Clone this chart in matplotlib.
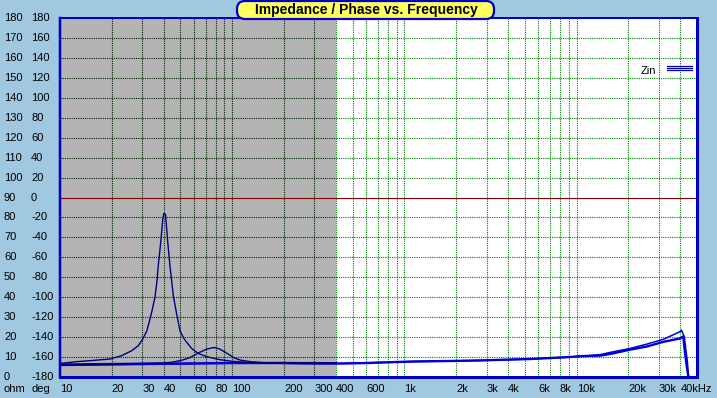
import matplotlib
matplotlib.use("Agg")
import matplotlib.pyplot as plt
import matplotlib.transforms as mtransforms
from matplotlib.patches import FancyBboxPatch
from matplotlib.lines import Line2D

# ---------------- data ----------------
title = "Impedance / Phase vs. Frequency"
legend_label = "Zin"

ohm_ticks = [180, 170, 160, 150, 140, 130, 120, 110, 100, 90, 80, 70, 60, 50, 40, 30, 20, 10, 0]
deg_ticks = [180, 160, 140, 120, 100, 80, 60, 40, 20, 0, -20, -40, -60, -80, -100, -120, -140, -160, -180]

x_tick_vals = [10, 20, 30, 40, 60, 80, 100, 200, 300, 400, 600, 1000, 2000, 3000, 4000,
               6000, 8000, 10000, 20000, 30000, 40000]
x_tick_labels = ["10", "20", "30", "40", "60", "80", "100", "200", "300", "400", "600", "1k",
                 "2k", "3k", "4k", "6k", "8k", "10k", "20k", "30k", "40kHz"]

grid_freqs = [20, 30, 40, 50, 60, 70, 80, 90,
              100, 200, 300, 400, 500, 600, 700, 800, 900,
              1000, 2000, 3000, 4000, 5000, 6000, 7000, 8000, 9000,
              10000, 20000, 30000, 40000]

shade_lo, shade_hi = 10, 400

# resonance curve (navy)
freq1 = [10, 12.5, 15, 19.5, 22.8, 26.1, 28.5, 30.2, 31.9, 33.3, 34.4, 35.6, 36.5, 37.2,
         38.6, 39.5, 40.1, 41.0, 42.1, 43.5, 45.5, 47.6, 49.8, 52.7, 54.5, 58.2, 63.5, 71,
         84.6, 101.7, 121.6, 150, 200, 300, 400]
z1 = [6.8, 7.7, 8.2, 9.0, 10.7, 13.2, 15.7, 19.0, 23.0, 29.0, 34.0, 40.0, 47.5, 55.7,
      69.0, 79.0, 82.0, 81.5, 69.0, 55.7, 40.7, 31.5, 23.0, 19.0, 17.3, 14.3, 11.8, 10.2,
      8.7, 7.8, 7.3, 7.2, 7.2, 7.2, 7.0]

# hump curve (navy)
freq2 = [10, 15, 20, 30, 40, 45.5, 52, 57, 63.5, 71, 78.6, 84.6, 92.9, 101.7, 111, 127,
         150, 200, 300, 400]
z2 = [6.0, 6.2, 6.4, 6.8, 7.0, 7.5, 8.6, 9.8, 12.0, 14.0, 14.8, 14.0, 12.0, 9.8, 8.5, 7.7,
      7.2, 6.8, 6.6, 6.8]

# thick blue curve
freq3 = [10, 20, 50, 100, 200, 424, 607, 824, 1127, 1760, 2750, 3970, 5300, 7000, 9100,
         10900, 13700, 16200, 20400, 25600, 32100, 39800, 41600, 42600, 43500, 44600]
z3 = [6.3, 6.5, 6.8, 7.0, 7.0, 6.75, 7.0, 7.4, 7.8, 8.0, 8.3, 8.7, 9.0, 9.5, 10.0,
      10.5, 10.7, 11.8, 13.7, 15.3, 17.7, 19.3, 20.3, 12.0, 6.0, 0.0]

# medium blue curve
freq4 = [10, 20, 50, 100, 200, 424, 1000, 2750, 5300, 9100, 10900, 13700, 15600, 20400,
         25600, 32100, 39800, 40700, 42200, 43300, 44000, 44600]
z4 = [5.8, 6.1, 6.5, 6.9, 7.0, 6.8, 7.6, 8.3, 9.0, 10.0, 10.5, 11.2, 12.3, 14.3,
      16.5, 19.0, 22.7, 23.5, 20.0, 12.3, 7.5, 0.0]

# ---------------- style ----------------
W, H = 717, 398
BG = "#A0C8E0"
FRAME = "#0000C8"
GREY = "#B4B4B4"
GRID_DARK = "#002800"
GRID_GREEN = "#008000"
NAVY = "#000080"
BLUE = "#0000D8"
FONT = "Liberation Sans"
FS = 8

fig = plt.figure(figsize=(W / 100, H / 100), dpi=100, facecolor=BG)
ax_l, ax_r, ax_t, ax_b = 60, 697, 18, 377
ax = fig.add_axes([ax_l / W, (H - ax_b) / H, (ax_r - ax_l) / W, (ax_b - ax_t) / H])
ax.set_xscale("log")
ax.set_xlim(10, 50000)
ax.set_ylim(0, 180)
ax.set_facecolor("white")
ax.set_xticks([])
ax.set_yticks([])
ax.minorticks_off()
ax.tick_params(which="both", length=0, labelbottom=False, labelleft=False)

ax.axvspan(shade_lo, shade_hi, color=GREY, lw=0, zorder=0)

dot = (0, (1, 1))
for f in grid_freqs:
    c = GRID_DARK if f < shade_hi else GRID_GREEN
    ax.axvline(f, color=c, lw=0.8, ls=dot, zorder=1)
for v in range(10, 180, 10):
    if v == 90:
        continue
    ax.plot([shade_lo, shade_hi], [v, v], color=GRID_DARK, lw=0.8, ls=dot, zorder=1)
    ax.plot([shade_hi, 50000], [v, v], color=GRID_GREEN, lw=0.8, ls=dot, zorder=1)
ax.axhline(90, color="#800000", lw=0.8, zorder=1)

ax.plot(freq4, z4, color=BLUE, lw=1.1, zorder=3)
ax.plot(freq3, z3, color=BLUE, lw=1.7, zorder=3)
ax.plot(freq2, z2, color=NAVY, lw=1.0, zorder=4)
ax.plot(freq1, z1, color=NAVY, lw=1.0, zorder=4)

for side, lw in (("left", 2.5), ("bottom", 3), ("right", 3), ("top", 2)):
    ax.spines[side].set_color(FRAME)
    ax.spines[side].set_linewidth(lw * 0.72)

# y labels (two columns)
ytr = mtransforms.blended_transform_factory(fig.transFigure, ax.transData)
for o, d in zip(ohm_ticks, deg_ticks):
    fig.text(4 / W, o, str(o), transform=ytr, ha="left", va="center",
             fontsize=FS, family=FONT, color="black")
    fig.text(31 / W, o, str(d), transform=ytr, ha="left", va="center",
             fontsize=FS, family=FONT, color="black")

# x labels
xtr = mtransforms.blended_transform_factory(ax.transData, fig.transFigure)
ylab = (H - 389) / H
for xv, lab in zip(x_tick_vals, x_tick_labels):
    fig.text(xv, ylab, lab, transform=xtr, ha="left", va="center",
             fontsize=FS, family=FONT, color="black")
fig.text(4 / W, ylab, "ohm", ha="left", va="center", fontsize=FS, family=FONT)
fig.text(31 / W, ylab, "deg", ha="left", va="center", fontsize=FS, family=FONT)

# title box
ident = mtransforms.IdentityTransform()
box = FancyBboxPatch((237, H - 19), 257, 18, boxstyle="round,pad=0,rounding_size=8",
                     fc="#FFFF60", ec=FRAME, lw=1.6, transform=ident, zorder=10)
fig.add_artist(box)
fig.text(366 / W, (H - 10) / H, title, ha="center", va="center", fontsize=10,
         fontweight="bold", family=FONT, color="black", zorder=11)

# legend
fig.text(641 / W, (H - 71) / H, legend_label, ha="left", va="center", fontsize=FS,
         family=FONT, color="black", zorder=11)
for yy, cc in ((65.7, FRAME), (68.0, NAVY), (70.3, FRAME)):
    fig.add_artist(Line2D([667, 692], [H - yy, H - yy], color=cc, lw=0.9,
                          transform=ident, zorder=11))

fig.savefig("out.png", dpi=100, facecolor=BG)
